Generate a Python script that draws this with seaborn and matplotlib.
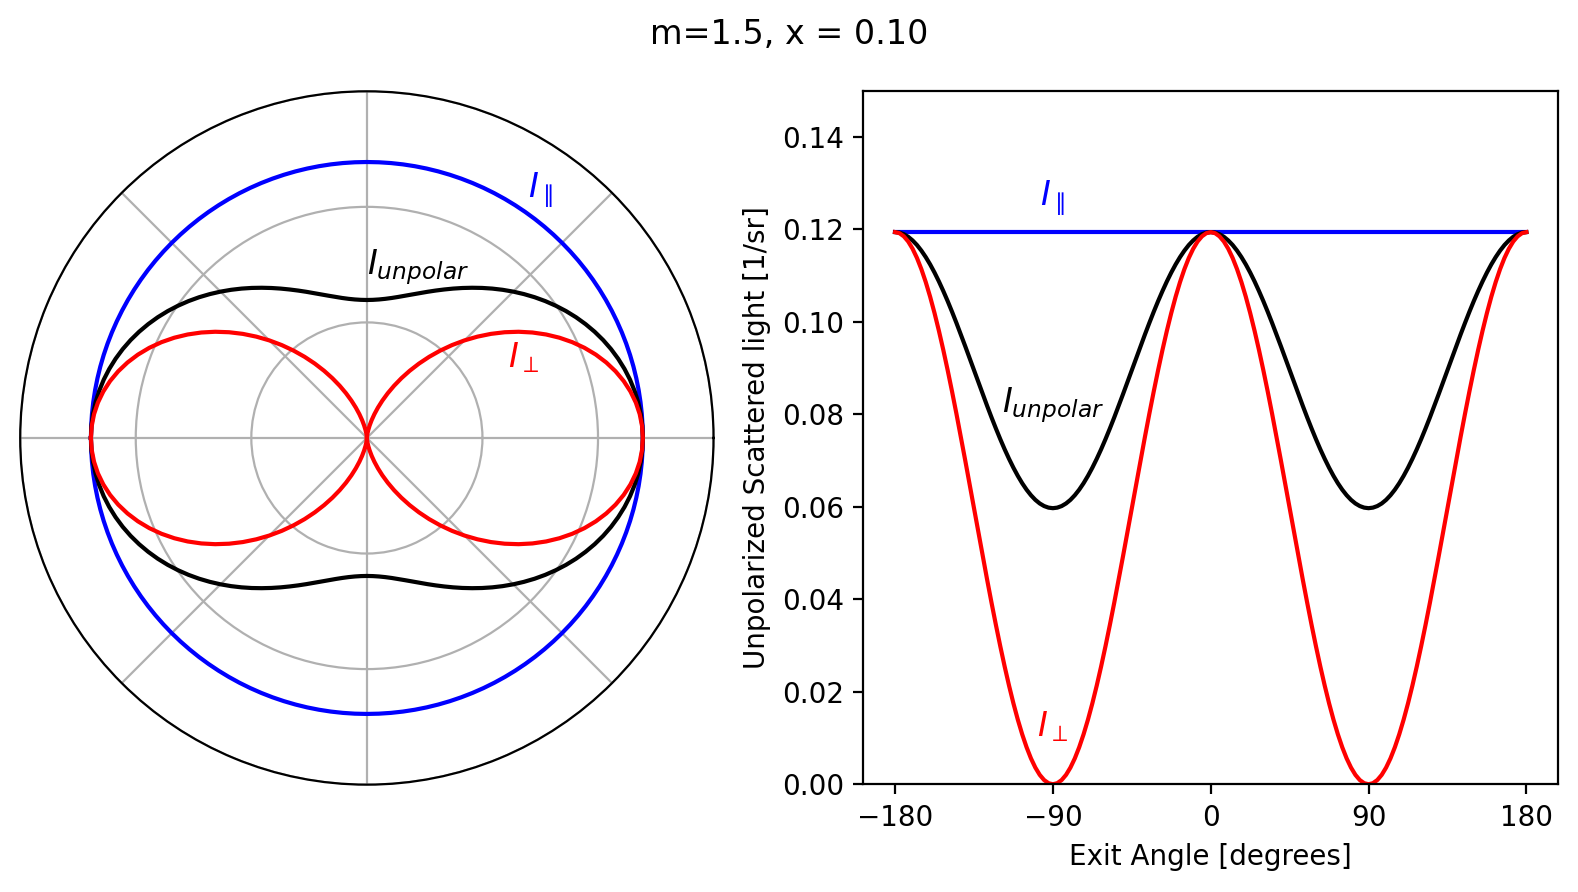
import numpy as np
import pandas as pd
import matplotlib
matplotlib.use("Agg")
import matplotlib.pyplot as plt
import seaborn as sns

# exit angles in degrees, every 2.5 degrees
angles = [-180 + 2.5 * i for i in range(145)]

# one quarter (0..90 deg), mirrored below
perp_q = [0.1194, 0.11917, 0.11849, 0.11737, 0.11580, 0.11381, 0.11140, 0.10860, 0.10543, 0.10191,
          0.09807, 0.09394, 0.08955, 0.08493, 0.08012, 0.07515, 0.07007, 0.06490, 0.05970, 0.05450,
          0.04933, 0.04425, 0.03928, 0.03447, 0.02985, 0.02546, 0.02133, 0.01749, 0.01397, 0.01080,
          0.00800, 0.00559, 0.00360, 0.00203, 0.00091, 0.00023, 0.0]
unpol_q = [0.1194, 0.11929, 0.11895, 0.11839, 0.11760, 0.11661, 0.11540, 0.11400, 0.11242, 0.11066,
           0.10874, 0.10667, 0.10448, 0.10217, 0.09976, 0.09728, 0.09474, 0.09215, 0.08955, 0.08695,
           0.08437, 0.08183, 0.07934, 0.07694, 0.07463, 0.07243, 0.07037, 0.06845, 0.06669, 0.06510,
           0.06370, 0.06250, 0.06150, 0.06072, 0.06016, 0.05982, 0.0597]

i_perp = perp_q + perp_q[-2::-1] + perp_q[1:] + perp_q[-2::-1]
i_unpolar = unpol_q + unpol_q[-2::-1] + unpol_q[1:] + unpol_q[-2::-1]
i_par = [0.1194] * len(angles)

df = pd.DataFrame({"angle": angles, "par": i_par, "perp": i_perp, "unpolar": i_unpolar})
df["theta"] = np.radians(df["angle"])

fig = plt.figure(figsize=(7.89, 4.46), dpi=200)
fig.suptitle("m=1.5, x = 0.10", fontsize=12)

# --- polar panel ---
axp = fig.add_axes([0.0128, 0.1196, 0.4394, 0.7788], projection="polar")
sns.lineplot(data=df, x="theta", y="par", color="blue", sort=False, ax=axp, lw=1.5)
sns.lineplot(data=df, x="theta", y="unpolar", color="black", sort=False, ax=axp, lw=1.5)
sns.lineplot(data=df, x="theta", y="perp", color="red", sort=False, ax=axp, lw=1.5)
axp.set_rmax(0.15)
axp.set_rticks([0.05, 0.10, 0.15])
axp.set_yticklabels([])
axp.set_thetagrids(range(0, 360, 45), labels=[])
axp.set_xlabel("")
axp.set_ylabel("")
axp.text(np.radians(55), 0.131, r"$I_\parallel$", color="blue", fontsize=12, ha="center", va="center")
axp.text(np.radians(73.3), 0.0772, r"$I_{unpolar}$", color="black", fontsize=12, ha="center", va="center")
axp.text(np.radians(27.1), 0.0762, r"$I_\perp$", color="red", fontsize=12, ha="center", va="center")

# --- cartesian panel ---
ax = fig.add_axes([0.5472, 0.1208, 0.4401, 0.7776])
sns.lineplot(data=df, x="angle", y="par", color="blue", ax=ax, lw=1.5)
sns.lineplot(data=df, x="angle", y="unpolar", color="black", ax=ax, lw=1.5)
sns.lineplot(data=df, x="angle", y="perp", color="red", ax=ax, lw=1.5)
ax.set_ylim(0, 0.15)
ax.set_xticks([-180, -90, 0, 90, 180])
ax.set_xlabel("Exit Angle [degrees]")
ax.set_ylabel("Unpolarized Scattered light [1/sr]")
ax.text(-90, 0.1267, r"$I_\parallel$", color="blue", fontsize=12, ha="center", va="center")
ax.text(-90, 0.0819, r"$I_{unpolar}$", color="black", fontsize=12, ha="center", va="center")
ax.text(-90, 0.0124, r"$I_\perp$", color="red", fontsize=12, ha="center", va="center")

fig.savefig("out.png", dpi=200)
